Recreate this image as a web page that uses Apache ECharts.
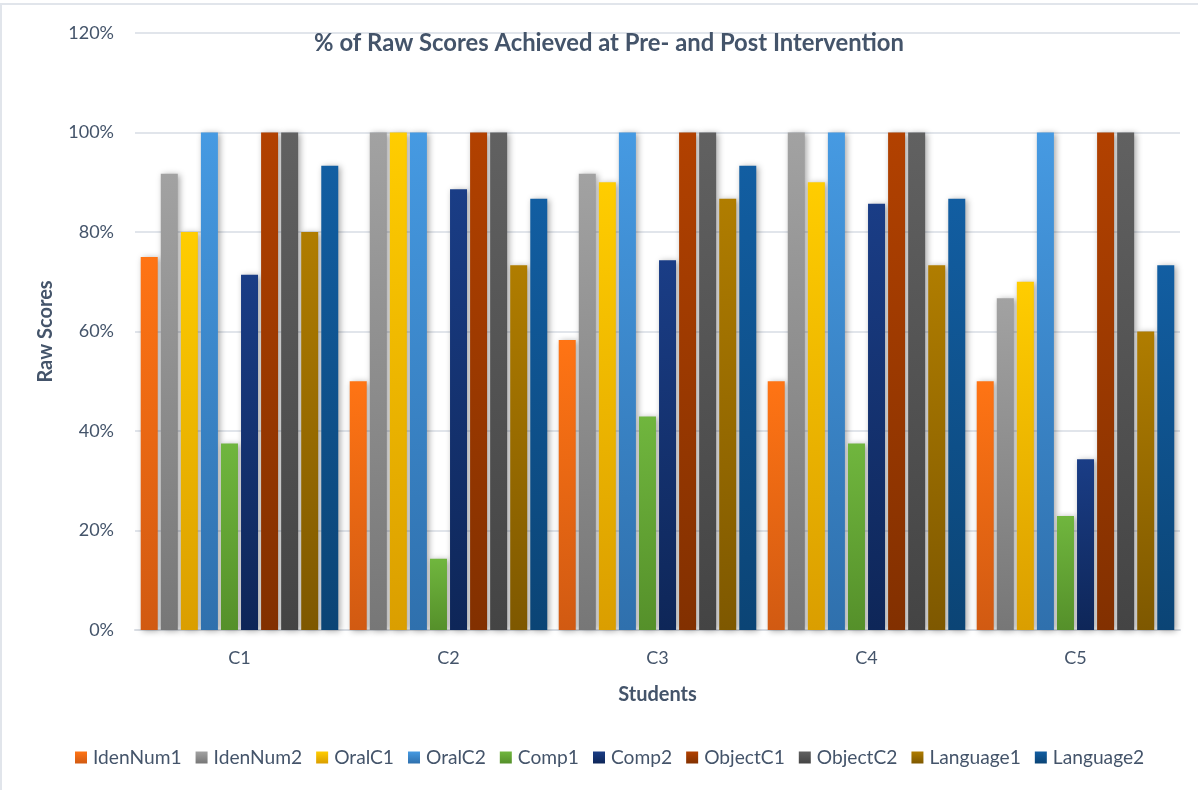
<!DOCTYPE html>
<html>
<head>
<meta charset="utf-8">
<script src="https://cdn.jsdelivr.net/npm/echarts@6/dist/echarts.min.js"></script>
<style>
  html, body { margin: 0; padding: 0; background: #fff; }
  #frame { position: absolute; left: 0; top: 3px; width: 1196px; height: 785px; border: 2px solid #e1e5eb; border-right: none; border-bottom: none; }
  #chart { position: absolute; left: 0; top: 0; width: 1198px; height: 790px; }
</style>
</head>
<body>
<div id="frame"></div>
<div id="chart"></div>
<script>
let students = ['C1', 'C2', 'C3', 'C4', 'C5'];
let seriesNames = ['IdenNum1', 'IdenNum2', 'OralC1', 'OralC2', 'Comp1', 'Comp2', 'ObjectC1', 'ObjectC2', 'Language1', 'Language2'];

// percent of raw score per student
let idenNum1 = [75, 50, 58.3, 50, 50];
let idenNum2 = [91.7, 100, 91.7, 100, 66.7];
let oralC1 = [80, 100, 90, 90, 70];
let oralC2 = [100, 100, 100, 100, 100];
let comp1 = [37.5, 14.3, 42.9, 37.5, 22.9];
let comp2 = [71.4, 88.6, 74.3, 85.7, 34.3];
let objectC1 = [100, 100, 100, 100, 100];
let objectC2 = [100, 100, 100, 100, 100];
let language1 = [80, 73.3, 86.7, 73.3, 60];
let language2 = [93.3, 86.7, 93.3, 86.7, 73.3];

let allValues = [idenNum1, idenNum2, oralC1, oralC2, comp1, comp2, objectC1, objectC2, language1, language2];

// top / bottom colour of each bar gradient
let topColors = ['#ff7414', '#a2a2a2', '#ffcd00', '#469ae2', '#70b63e', '#1a3d86', '#b24100', '#616161', '#b07d00', '#125ea2'];
let bottomColors = ['#d15a12', '#777777', '#da9e00', '#2f70ad', '#55902a', '#0e2658', '#823000', '#444444', '#7e5800', '#0b4475'];

const textColor = '#44546a';
const fontName = 'Lato';

let myChart = echarts.init(document.getElementById('chart'));

let series = seriesNames.map((name, i) => {
    return {
        name: name,
        type: 'bar',
        data: allValues[i],
        barWidth: 17,
        barGap: '18%',
        itemStyle: {
            color: new echarts.graphic.LinearGradient(0, 0, 0, 1, [
                {offset: 0, color: topColors[i]},
                {offset: 1, color: bottomColors[i]}
            ]),
            shadowBlur: 6,
            shadowColor: 'rgba(0,0,0,0.35)',
            shadowOffsetX: 2,
            shadowOffsetY: 1
        }
    }
});

myChart.setOption({
    animation: false,
    textStyle: {fontFamily: fontName},
    title: {
        text: '% of Raw Scores Achieved at Pre- and Post Intervention',
        left: 604,
        textAlign: 'center',
        top: 26,
        textStyle: {color: textColor, fontSize: 23.8, fontWeight: 'bold', fontFamily: fontName}
    },
    legend: {
        bottom: 18,
        left: 70,
        icon: 'rect',
        itemWidth: 12,
        itemHeight: 12,
        itemGap: 14,
        textStyle: {color: textColor, fontSize: 19.2, fontFamily: fontName, padding: [0, 0, 0, 1]},
        data: seriesNames
    },
    grid: {
        left: 135,
        right: 18,
        top: 33,
        bottom: 160,
        containLabel: false
    },
    xAxis: {
        type: 'category',
        data: students,
        name: 'Students',
        nameLocation: 'middle',
        nameGap: 55,
        nameTextStyle: {color: textColor, fontSize: 20, fontWeight: 'bold', fontFamily: fontName},
        axisLine: {lineStyle: {color: '#d9dde3', width: 2}},
        axisTick: {show: false},
        axisLabel: {color: textColor, fontSize: 18, margin: 19, fontFamily: fontName}
    },
    yAxis: {
        type: 'value',
        min: 0,
        max: 120,
        interval: 20,
        name: 'Raw Scores',
        nameLocation: 'middle',
        nameGap: 79,
        nameRotate: 90,
        nameTextStyle: {color: textColor, fontSize: 20, fontWeight: 'bold', fontFamily: fontName},
        axisLine: {show: false},
        axisTick: {show: false},
        axisLabel: {color: textColor, fontSize: 18, margin: 21, formatter: '{value}%', fontFamily: fontName},
        splitLine: {lineStyle: {color: '#e1e5eb', width: 2}}
    },
    series: series
});
</script>
</body>
</html>
